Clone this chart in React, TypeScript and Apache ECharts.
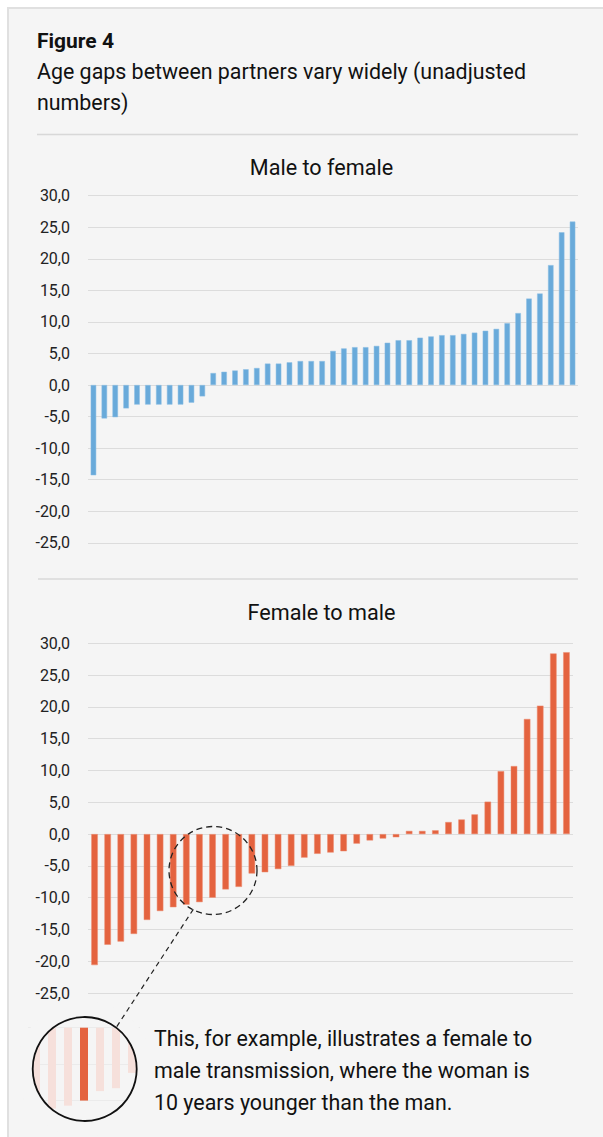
import React, { useEffect, useRef } from "react";
import * as echarts from "echarts";

// Male to female age gap (years), sorted
const maleToFemale = [
  -14.3, -5.3, -5.1, -3.7, -3.1, -3.1, -3.1, -3.1, -3.1, -2.8, -1.8,
  1.9, 2.1, 2.3, 2.5, 2.7, 3.4, 3.4, 3.6, 3.8, 3.8, 3.8,
  5.4, 5.8, 6.0, 6.0, 6.2, 6.7, 7.1, 7.1, 7.5, 7.7, 7.9, 7.9,
  8.1, 8.3, 8.6, 8.9, 9.8, 11.4, 13.7, 14.5, 19.0, 24.2, 25.9,
];

// Female to male age gap (years), sorted
const femaleToMale = [
  -20.6, -17.4, -16.9, -15.7, -13.5, -12.1, -11.5, -11.1, -10.7, -10.0,
  -8.7, -8.3, -6.2, -6.0, -5.5, -5.0, -3.7, -3.1, -2.9, -2.7, -1.5, -1.0,
  -0.7, -0.5, 0.5, 0.5, 0.6, 1.9, 2.3, 3.1, 5.1, 9.9, 10.7, 18.1, 20.2,
  28.4, 28.6,
];

const yMin = -25;
const yMax = 30;
const yStep = 5;

// inset (magnified) slice of female-to-male bars
const insetStart = 6;
const insetEnd = 13;
const highlightIndex = 9;

const titleText = "Figure 4";
const subtitleLines = ["Age gaps between partners vary widely (unadjusted", "numbers)"];
const panelTitles = ["Male to female", "Female to male"];
const noteLines = [
  "This, for example, illustrates a female to",
  "male transmission, where the woman is",
  "10 years younger than the man.",
];

const fmt = (v: number) => v.toFixed(1).replace(".", ",");

export default function App() {
  const ref = useRef<HTMLDivElement>(null);

  useEffect(() => {
    const chart = echarts.init(ref.current!, null, { renderer: "svg" });
    const font = "Roboto, 'Noto Sans', sans-serif";
    const blue = "#69AADA";
    const orange = "#E4633F";
    const faded = "#F6E0DB";
    const bg = "#F5F5F5";

    const valueAxis = (gridIndex: number) => ({
      type: "value",
      gridIndex,
      min: yMin,
      max: yMax,
      interval: yStep,
      axisLabel: {
        formatter: fmt,
        color: "#222",
        fontSize: 16,
        fontFamily: font,
        margin: 18,
      },
      splitLine: { lineStyle: { color: "#dcdcdc", width: 1.2 } },
      axisLine: { show: false },
      axisTick: { show: false },
    });

    const catAxis = (gridIndex: number, n: number) => ({
      type: "category",
      gridIndex,
      data: Array.from({ length: n }, (_, i) => String(i + 1)),
      axisLine: { show: false },
      axisTick: { show: false },
      axisLabel: { show: false },
      splitLine: { show: false },
    });

    const insetValues = femaleToMale.slice(insetStart, insetEnd);

    chart.setOption({
      animation: false,
      backgroundColor: "#ffffff",
      grid: [
        { left: 88, top: 195.7, width: 490, height: 347.1 },
        { left: 88, top: 643.3, width: 485, height: 349.8 },
        { left: 28, top: 1027.7, width: 112, height: 118.5 },
      ],
      xAxis: [
        catAxis(0, maleToFemale.length),
        catAxis(1, femaleToMale.length),
        catAxis(2, insetValues.length),
      ],
      yAxis: [
        valueAxis(0),
        valueAxis(1),
        {
          type: "value",
          gridIndex: 2,
          min: -15,
          max: 0,
          interval: 5,
          axisLabel: { show: false },
          axisLine: { show: false },
          axisTick: { show: false },
          splitLine: { lineStyle: { color: "#ebebeb", width: 1 } },
        },
      ],
      series: [
        {
          type: "bar",
          xAxisIndex: 0,
          yAxisIndex: 0,
          data: maleToFemale,
          barWidth: 5.5,
          itemStyle: { color: blue, borderColor: "#8CBFE5", borderWidth: 0.5 },
        },
        {
          type: "bar",
          xAxisIndex: 1,
          yAxisIndex: 1,
          data: femaleToMale,
          barWidth: 6.5,
          itemStyle: { color: orange, borderColor: "#EC8C70", borderWidth: 0.5 },
        },
        {
          type: "bar",
          xAxisIndex: 2,
          yAxisIndex: 2,
          barWidth: 8,
          data: insetValues.map((v, i) => ({
            value: v,
            itemStyle: { color: insetStart + i === highlightIndex ? orange : faded },
          })),
        },
      ],
      graphic: [
        {
          type: "rect",
          z: -100,
          shape: { x: 8, y: 8, width: 700, height: 1300 },
          style: { fill: bg, stroke: "#E0E0E0", lineWidth: 2 },
        },
        {
          type: "text",
          x: 37,
          y: 41,
          style: {
            text: titleText,
            fontFamily: font,
            fontWeight: "bold",
            fontSize: 21,
            fill: "#111",
            verticalAlign: "middle",
          },
        },
        ...subtitleLines.map((t, i) => ({
          type: "text",
          x: 37,
          y: 71.5 + i * 31,
          style: {
            text: t,
            fontFamily: font,
            fontSize: 21.4,
            fill: "#111",
            verticalAlign: "middle",
          },
        })),
        {
          type: "line",
          shape: { x1: 37, y1: 134.5, x2: 578, y2: 134.5 },
          style: { stroke: "#d8d8d8", lineWidth: 1.5 },
        },
        {
          type: "line",
          shape: { x1: 38, y1: 579, x2: 578, y2: 579 },
          style: { stroke: "#d8d8d8", lineWidth: 1.5 },
        },
        ...panelTitles.map((t, i) => ({
          type: "text",
          x: 321.5,
          y: i === 0 ? 167 : 612,
          style: {
            text: t,
            fontFamily: font,
            fontSize: 21.6,
            fill: "#111",
            align: "center",
            verticalAlign: "middle",
          },
        })),
        {
          type: "circle",
          z: 10,
          shape: { cx: 213, cy: 870.5, r: 44 },
          style: { fill: "none", stroke: "#222", lineWidth: 1.3, lineDash: [6, 4] },
        },
        {
          type: "ring",
          z: 9,
          shape: { cx: 84.7, cy: 1069, r: 68, r0: 52 },
          style: { fill: bg },
        },
        {
          type: "line",
          z: 10,
          shape: { x1: 193.3, y1: 909.3, x2: 116.7, y2: 1026.7 },
          style: { stroke: "#222", lineWidth: 1.2, lineDash: [5, 4] },
        },
        {
          type: "circle",
          z: 10,
          shape: { cx: 84.7, cy: 1069, r: 52 },
          style: { fill: "none", stroke: "#111", lineWidth: 1.8 },
        },
        ...noteLines.map((t, i) => ({
          type: "text",
          z: 11,
          x: 154,
          y: 1038 + i * 32,
          style: {
            text: t,
            fontFamily: font,
            fontSize: 21.4,
            fill: "#111",
            verticalAlign: "middle",
          },
        })),
      ],
    });

    return () => chart.dispose();
  }, []);

  return (
    <div
      ref={ref}
      style={{ position: "absolute", left: 0, top: 0, width: 603, height: 1137, overflow: "hidden" }}
    />
  );
}
